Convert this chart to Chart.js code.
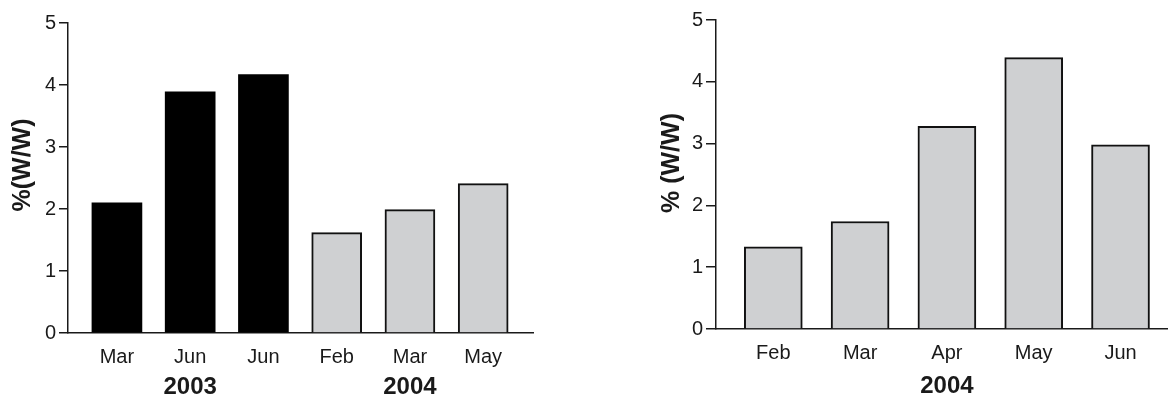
<!DOCTYPE html>
<html>
<head>
<meta charset="utf-8">
<script src="https://cdn.jsdelivr.net/npm/chart.js@4/dist/chart.umd.min.js"></script>
<style>
  html, body { margin: 0; padding: 0; background: #fff; }
  body { width: 1168px; height: 398px; position: relative; overflow: hidden; }
  .panel { position: absolute; top: 0; }
  #leftPanel { left: 0; }
  #rightPanel { left: 640px; }
</style>
</head>
<body>
<div class="panel" id="leftPanel"><canvas id="leftChart" width="560" height="398"></canvas></div>
<div class="panel" id="rightPanel"><canvas id="rightChart" width="528" height="398"></canvas></div>
<script>
// Left panel: sampling months across two years
const leftMonths = ['Mar', 'Jun', 'Jun', 'Feb', 'Mar', 'May'];
const leftYears = ['2003', '2003', '2003', '2004', '2004', '2004'];
const leftValues = [2.1, 3.89, 4.17, 1.62, 1.99, 2.41];
const leftYearLabels = ['2003', '2004'];
const leftYearPositions = [1, 4];

// Right panel: 2004 only
const rightMonths = ['Feb', 'Mar', 'Apr', 'May', 'Jun'];
const rightValues = [1.33, 1.74, 3.28, 4.39, 2.98];
const rightYearLabels = ['2004'];
const rightYearPositions = [2];

const yTickValues = [0, 1, 2, 3, 4, 5];
const yearColors = { '2003': '#000000', '2004': '#cfd0d2' };

const INK = '#1a1a1a';
const FONT = '"Liberation Sans", Arial, Helvetica, sans-serif';

// Draws the year captions under the month labels and the rotated y title
const annotations = {
  id: 'annotations',
  afterDraw(chart, args, opts) {
    const ctx = chart.ctx;
    const x = chart.scales.x;
    const area = chart.chartArea;
    ctx.save();
    ctx.fillStyle = INK;
    ctx.textAlign = 'center';
    ctx.textBaseline = 'middle';
    ctx.font = 'bold 24px ' + FONT;
    opts.years.forEach((label, i) => {
      ctx.fillText(label, x.getPixelForValue(opts.yearAt[i]), area.bottom + opts.yearOffset);
    });
    ctx.translate(opts.titleX, opts.titleY);
    ctx.rotate(-Math.PI / 2);
    ctx.font = 'bold 25px ' + FONT;
    ctx.fillText(opts.title, 0, 0);
    ctx.restore();
  }
};

function makeChart(id, cfg) {
  const data = cfg.values.map((v, i) => ({ x: i, y: v }));
  return new Chart(document.getElementById(id), {
    type: 'bar',
    data: {
      datasets: [{
        data: data,
        backgroundColor: cfg.colors,
        borderColor: cfg.borderColors,
        borderWidth: cfg.borderWidths,
        borderSkipped: 'bottom',
        barThickness: cfg.barWidth
      }]
    },
    plugins: [annotations],
    options: {
      responsive: false,
      devicePixelRatio: 1,
      animation: false,
      layout: { padding: { left: 0, right: cfg.padRight, top: cfg.padTop, bottom: 0 } },
      plugins: {
        legend: { display: false },
        tooltip: { enabled: false },
        annotations: {
          years: cfg.yearLabels,
          yearAt: cfg.yearPositions,
          yearOffset: cfg.yearOffset,
          title: cfg.title,
          titleX: cfg.titleX,
          titleY: cfg.titleY
        }
      },
      scales: {
        x: {
          type: 'linear',
          offset: false,
          min: cfg.xMin,
          max: cfg.xMax,
          grid: { display: false, drawTicks: false },
          border: { display: true, color: INK, width: 1.5 },
          afterFit(scale) { scale.height = cfg.xAxisHeight; },
          ticks: {
            stepSize: 1,
            includeBounds: false,
            autoSkip: false,
            maxRotation: 0,
            padding: 12,
            color: INK,
            font: { family: FONT, size: 20 },
            callback: (v) => (Number.isInteger(v) && cfg.months[v] !== undefined) ? cfg.months[v] : ''
          }
        },
        y: {
          min: 0,
          max: 5,
          afterFit(scale) { scale.width = cfg.yAxisWidth; },
          afterBuildTicks(scale) { scale.ticks = yTickValues.map(v => ({ value: v })); },
          grid: {
            display: true,
            drawOnChartArea: false,
            drawTicks: true,
            tickLength: cfg.tickLength,
            color: INK,
            lineWidth: 1.5
          },
          border: { display: true, color: INK, width: 1.5 },
          ticks: {
            padding: 3,
            color: INK,
            font: { family: FONT, size: 20 }
          }
        }
      }
    }
  });
}

makeChart('leftChart', {
  values: leftValues,
  months: leftMonths,
  colors: leftYears.map(y => yearColors[y]),
  borderColors: leftYears.map(y => y === '2003' ? '#000000' : '#111111'),
  borderWidths: leftYears.map(y => y === '2003' ? 0 : 2),
  barWidth: 50,
  xMin: -0.668,
  xMax: 5.68,
  padRight: 27,
  padTop: 23,
  xAxisHeight: 65,
  yAxisWidth: 68,
  tickLength: 9,
  yearLabels: leftYearLabels,
  yearPositions: leftYearPositions,
  yearOffset: 54,
  title: '%(W/W)',
  titleX: 23,
  titleY: 165
});

makeChart('rightChart', {
  values: rightValues,
  months: rightMonths,
  colors: rightMonths.map(() => yearColors['2004']),
  borderColors: rightMonths.map(() => '#111111'),
  borderWidths: rightMonths.map(() => 2),
  barWidth: 58,
  xMin: -0.66,
  xMax: 4.547,
  padRight: 0,
  padTop: 20,
  xAxisHeight: 69,
  yAxisWidth: 76,
  tickLength: 10,
  yearLabels: rightYearLabels,
  yearPositions: rightYearPositions,
  yearOffset: 57,
  title: '% (W/W)',
  titleX: 32,
  titleY: 163
});
</script>
</body>
</html>
